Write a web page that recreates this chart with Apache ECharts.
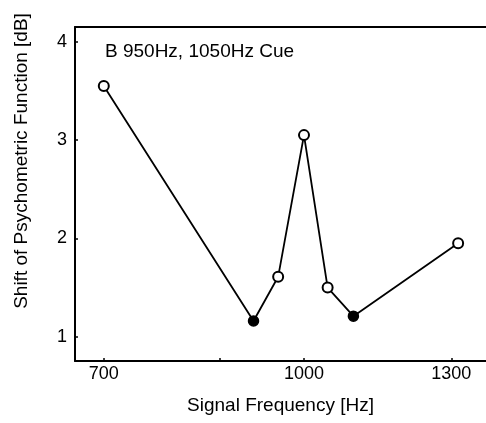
<!DOCTYPE html>
<html>
<head>
<meta charset="utf-8">
<script src="https://cdn.jsdelivr.net/npm/echarts@6/dist/echarts.min.js"></script>
<style>
  html, body { margin: 0; padding: 0; background: #fff; }
  #chart { width: 486px; height: 423px; }
</style>
</head>
<body>
<div id="chart"></div>
<script>
// Signal frequencies (Hz) and psychometric-function shift (dB)
const freqHz   = [700, 914, 955, 1000, 1043, 1092, 1316];
const shiftDb  = [3.55, 1.16, 1.61, 3.05, 1.50, 1.21, 1.95];
// true where the signal sits at a cue frequency (drawn filled)
const cueFilled = [false, true, false, false, false, true, false];

const xTickLabels = [700, 1000, 1300];
const xTickMarks  = [700, 860, 1000, 1300];
const yTickValues = [1, 2, 3, 4];

const panelTitle = 'B 950Hz, 1050Hz Cue';
const xName = 'Signal Frequency [Hz]';
const yName = 'Shift of Psychometric Function [dB]';

const FONT = '"Liberation Sans", Arial, sans-serif';

const points = freqHz.map((f, i) => ({
  value: [f, shiftDb[i]],
  itemStyle: cueFilled[i]
    ? { color: '#000', borderColor: '#000', borderWidth: 1.5 }
    : { color: '#fff', borderColor: '#000', borderWidth: 2 }
}));

const chart = echarts.init(document.getElementById('chart'), null, { renderer: 'canvas' });

chart.setOption({
  animation: false,
  backgroundColor: '#fff',
  grid: { left: 75, right: 0, top: 27, bottom: 62, containLabel: false },
  title: {
    text: panelTitle,
    left: 105,
    top: 42,
    padding: 0,
    textStyle: { fontFamily: FONT, fontSize: 19, fontWeight: 'normal', color: '#000' }
  },
  xAxis: [{
    type: 'log',
    logBase: 10,
    min: 665,
    max: 1383,
    position: 'bottom',
    name: xName,
    nameLocation: 'middle',
    nameGap: 35,
    nameTextStyle: { fontFamily: FONT, fontSize: 19, color: '#000' },
    axisLine: { show: true, lineStyle: { color: '#000', width: 2 } },
    axisTick: { show: true, inside: true, length: 3, customValues: xTickMarks, lineStyle: { color: '#000', width: 1.5 } },
    axisLabel: {
      show: true, customValues: xTickLabels, margin: 4,
      fontFamily: FONT, fontSize: 18, color: '#000',
      formatter: v => String(Math.round(v))
    },
    splitLine: { show: false },
    minorTick: { show: false }
  }, {
    type: 'log',
    logBase: 10,
    min: 665,
    max: 1383,
    position: 'top',
    axisLine: { show: true, lineStyle: { color: '#000', width: 2 } },
    axisTick: { show: false },
    axisLabel: { show: false },
    splitLine: { show: false }
  }],
  yAxis: {
    type: 'value',
    min: 0.754,
    max: 4.149,
    axisLine: { show: true, lineStyle: { color: '#000', width: 2 } },
    axisTick: { show: true, inside: true, length: 3, customValues: yTickValues, lineStyle: { color: '#000', width: 1.5 } },
    axisLabel: {
      show: true, customValues: yTickValues, margin: 8,
      fontFamily: FONT, fontSize: 18, color: '#000',
      formatter: v => String(Math.round(v))
    },
    splitLine: { show: false }
  },
  graphic: [{
    type: 'text',
    x: 22,
    y: 161,
    rotation: Math.PI / 2,
    style: {
      text: yName,
      fontFamily: FONT,
      fontSize: 19,
      fill: '#000',
      align: 'center',
      verticalAlign: 'middle'
    }
  }],
  series: [{
    type: 'line',
    xAxisIndex: 0,
    data: points,
    symbol: 'circle',
    symbolSize: 10,
    showAllSymbol: true,
    lineStyle: { color: '#000', width: 1.8 },
    z: 3
  }]
});
</script>
</body>
</html>
